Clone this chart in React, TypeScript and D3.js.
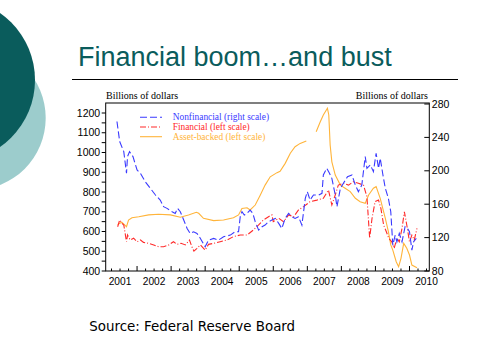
import React from 'react';
import * as d3 from 'd3';

// ---- data (decimal year, value) ----
const nonfinancial: [number, number][] = [
  [2001.41, 259], [2001.49, 235], [2001.61, 223], [2001.69, 197], [2001.72, 217], [2001.78, 223],
  [2001.88, 217], [2002.0, 201], [2002.1, 197], [2002.24, 187], [2002.39, 179], [2002.54, 171],
  [2002.68, 165], [2002.78, 157], [2002.88, 155], [2003.03, 151], [2003.12, 149], [2003.19, 155],
  [2003.27, 151], [2003.37, 141], [2003.47, 131], [2003.56, 125], [2003.66, 127], [2003.76, 125],
  [2003.86, 119], [2004.0, 109], [2004.1, 117], [2004.25, 119], [2004.39, 117], [2004.54, 121],
  [2004.74, 123], [2004.88, 127], [2004.98, 127], [2005.03, 145], [2005.08, 151], [2005.15, 147],
  [2005.23, 149], [2005.32, 153], [2005.4, 149], [2005.47, 139], [2005.57, 129], [2005.67, 133],
  [2005.76, 135], [2005.86, 139], [2005.96, 141], [2006.06, 143], [2006.16, 137], [2006.25, 131],
  [2006.35, 143], [2006.45, 149], [2006.55, 145], [2006.64, 143], [2006.74, 145], [2006.84, 135],
  [2006.94, 167], [2007.0, 175], [2007.08, 165], [2007.18, 171], [2007.33, 171], [2007.43, 173],
  [2007.47, 195], [2007.57, 203], [2007.65, 197], [2007.72, 191], [2007.82, 171], [2007.87, 157],
  [2007.97, 179], [2008.06, 185], [2008.18, 193], [2008.31, 195], [2008.41, 183], [2008.5, 175],
  [2008.6, 183], [2008.7, 217], [2008.75, 203], [2008.85, 207], [2008.94, 199], [2009.02, 221],
  [2009.09, 203], [2009.14, 215], [2009.22, 195], [2009.29, 179], [2009.38, 167], [2009.45, 151],
  [2009.51, 111], [2009.58, 123], [2009.63, 115], [2009.7, 125], [2009.78, 115], [2009.87, 133],
  [2009.94, 131], [2010.0, 127], [2010.07, 105], [2010.12, 115], [2010.2, 119],
];

const financial: [number, number][] = [
  [2001.43, 624], [2001.49, 658], [2001.56, 641], [2001.61, 633], [2001.69, 548], [2001.72, 582],
  [2001.8, 557], [2001.9, 566], [2002.0, 548], [2002.1, 557], [2002.19, 545], [2002.34, 540],
  [2002.49, 532], [2002.63, 523], [2002.78, 523], [2002.93, 532], [2003.07, 548], [2003.17, 535],
  [2003.29, 540], [2003.42, 532], [2003.54, 557], [2003.61, 523], [2003.67, 501], [2003.76, 515],
  [2003.86, 532], [2004.0, 506], [2004.1, 535], [2004.25, 540], [2004.44, 548], [2004.64, 557],
  [2004.83, 574], [2005.03, 582], [2005.23, 582], [2005.42, 608], [2005.57, 633], [2005.71, 658],
  [2005.86, 675], [2005.96, 684], [2006.0, 650], [2006.16, 667], [2006.3, 650], [2006.45, 684],
  [2006.6, 675], [2006.74, 709], [2006.89, 726], [2007.08, 751], [2007.28, 759], [2007.47, 768],
  [2007.62, 810], [2007.72, 734], [2007.82, 785], [2007.91, 835], [2008.06, 844], [2008.21, 835],
  [2008.35, 852], [2008.5, 844], [2008.65, 835], [2008.75, 776], [2008.83, 566], [2008.9, 667],
  [2008.99, 751], [2009.09, 759], [2009.16, 717], [2009.24, 633], [2009.32, 599], [2009.39, 566],
  [2009.48, 548], [2009.55, 515], [2009.63, 566], [2009.7, 548], [2009.78, 616], [2009.85, 700],
  [2009.92, 633], [2010.0, 548], [2010.07, 582], [2010.14, 557], [2010.22, 616],
];

const assetBacked: [number, number | null][] = [
  [2001.43, 636], [2001.55, 647], [2001.69, 624], [2001.75, 658], [2001.85, 670], [2002.05, 675],
  [2002.34, 684], [2002.63, 687], [2002.98, 684], [2003.27, 672], [2003.51, 684], [2003.74, 697],
  [2003.81, 692], [2003.95, 667], [2004.25, 655], [2004.54, 658], [2004.83, 670], [2004.98, 684],
  [2005.08, 717], [2005.23, 720], [2005.32, 709], [2005.47, 734], [2005.62, 785], [2005.76, 835],
  [2005.91, 877], [2006.11, 898], [2006.2, 905], [2006.35, 945], [2006.5, 996], [2006.64, 1029],
  [2006.79, 1046], [2006.97, 1058], [2007.1, null], [2007.26, 1105], [2007.38, 1156], [2007.47, 1190],
  [2007.59, 1224], [2007.63, 1190], [2007.67, 1038], [2007.72, 953], [2007.82, 886], [2007.97, 835],
  [2008.11, 819], [2008.26, 802], [2008.41, 768], [2008.55, 751], [2008.7, 743], [2008.8, 785],
  [2008.94, 819], [2009.02, 827], [2009.14, 768], [2009.29, 667], [2009.38, 599], [2009.45, 532],
  [2009.51, 506], [2009.61, 447], [2009.68, 422], [2009.75, 464], [2009.83, 540], [2009.92, 515],
  [2010.0, 481], [2010.07, 430], [2010.22, 417],
];

const yearLabels = [2001, 2002, 2003, 2004, 2005, 2006, 2007, 2008, 2009, 2010];
const leftTicks = [400, 500, 600, 700, 800, 900, 1000, 1100, 1200];
const rightTicks = [80, 120, 160, 200, 240, 280];

const legendItems = [
  { label: 'Nonfinancial (right scale)', color: '#3a3aff', dash: '7,3' },
  { label: 'Financial (left scale)', color: '#ff2a2a', dash: '6,2,1,2' },
  { label: 'Asset-backed (left scale)', color: '#ffb43a', dash: '' },
];

const App: React.FC = () => {
  /* ---------- Layout ---------- */
  const left = 105.7;
  const right = 429.3;
  const top = 103;
  const bottom = 271;

  /* ---------- Scales ---------- */
  const x = d3.scaleLinear().domain([2001, 2010]).range([103, 409.5]);
  const yL = d3.scaleLinear().domain([400, 1250]).range([bottom, bottom - 850 * 0.1975]);
  const yR = d3.scaleLinear().domain([80, 280]).range([bottom, 104]);

  const lineL = d3
    .line<[number, number | null]>()
    .defined(d => d[1] !== null)
    .x(d => x(d[0]))
    .y(d => yL(d[1] as number));
  const lineR = d3
    .line<[number, number]>()
    .x(d => x(d[0]))
    .y(d => yR(d[1]));

  const quarterTicks = d3.range(2001.25, 2010.55, 0.25).filter(v => x(v) > left && x(v) < right);
  const minorLeft = d3.range(400, 1250, 50);

  const teal = '#0a5c5c';
  const sans = 'Liberation Sans, Arial, sans-serif';
  const serif = 'Liberation Serif, Times New Roman, serif';

  return (
    <svg
      width={480}
      height={359}
      style={{ position: 'absolute', left: 0, top: 0, background: '#fff' }}
    >
      {/* slide decoration */}
      <circle cx={-26.3} cy={118} r={72} fill="#9ccccc" />
      <circle cx={-46.6} cy={80} r={81.6} fill={teal} />

      <text x={78} y={65.5} fontFamily={sans} fontSize={27} fill={teal}>
        Financial boom…and bust
      </text>
      <line x1={72} x2={458} y1={79.5} y2={79.5} stroke="#000" strokeWidth={1} />

      {/* axis titles */}
      <text x={106} y={99} fontFamily={serif} fontSize={10} fill="#000">
        Billions of dollars
      </text>
      <text x={428} y={99} fontFamily={serif} fontSize={10} fill="#000" textAnchor="end">
        Billions of dollars
      </text>

      {/* frame */}
      <rect x={left} y={top} width={right - left} height={bottom - top} fill="none" stroke="#000" strokeWidth={1} />

      {/* left ticks */}
      {minorLeft.map(v => (
        <line key={`lm${v}`} x1={left - 4} x2={left} y1={yL(v)} y2={yL(v)} stroke="#000" />
      ))}
      {leftTicks.map(v => (
        <text
          key={`lt${v}`}
          x={left - 5.5}
          y={yL(v)}
          dy="0.35em"
          textAnchor="end"
          fontFamily={sans}
          fontSize={10.5}
          fill="#000"
        >
          {v}
        </text>
      ))}

      {/* right ticks */}
      {rightTicks.map(v => (
        <g key={`rt${v}`}>
          <line x1={right - 5} x2={right} y1={yR(v)} y2={yR(v)} stroke="#000" />
          <text x={right + 2.5} y={yR(v)} dy="0.35em" fontFamily={sans} fontSize={10.5} fill="#000">
            {v}
          </text>
        </g>
      ))}

      {/* bottom ticks */}
      {quarterTicks.map(v => {
        const isYear = Math.abs(v - Math.round(v)) < 0.01;
        return (
          <line
            key={`q${v}`}
            x1={x(v)}
            x2={x(v)}
            y1={bottom}
            y2={bottom - (isYear ? 5 : 2.5)}
            stroke="#000"
          />
        );
      })}
      {yearLabels.map(yr => (
        <text
          key={`y${yr}`}
          x={x(yr + 0.5)}
          y={284.5}
          textAnchor="middle"
          fontFamily={sans}
          fontSize={10.2}
          fill="#000"
        >
          {yr}
        </text>
      ))}

      {/* series */}
      <path d={lineL(assetBacked) ?? ''} fill="none" stroke={legendItems[2].color} strokeWidth={1.1} />
      <path
        d={lineL(financial as [number, number | null][]) ?? ''}
        fill="none"
        stroke={legendItems[1].color}
        strokeWidth={1.1}
        strokeDasharray={legendItems[1].dash}
      />
      <path
        d={lineR(nonfinancial) ?? ''}
        fill="none"
        stroke={legendItems[0].color}
        strokeWidth={1.1}
        strokeDasharray={legendItems[0].dash}
      />

      {/* legend */}
      {legendItems.map((it, i) => {
        const ly = 117.3 + i * 9.7;
        return (
          <g key={it.label}>
            <line x1={140} x2={162} y1={ly} y2={ly} stroke={it.color} strokeWidth={1.1} strokeDasharray={it.dash || undefined} />
            <text x={172.7} y={ly + 3} fontFamily={serif} fontSize={9.4} fill={it.color}>
              {it.label}
            </text>
          </g>
        );
      })}

      <text x={89.3} y={330.5} fontFamily="DejaVu Sans, Verdana, sans-serif" fontSize={13.4} fill="#000">
        Source: Federal Reserve Board
      </text>
    </svg>
  );
};

export default App;
